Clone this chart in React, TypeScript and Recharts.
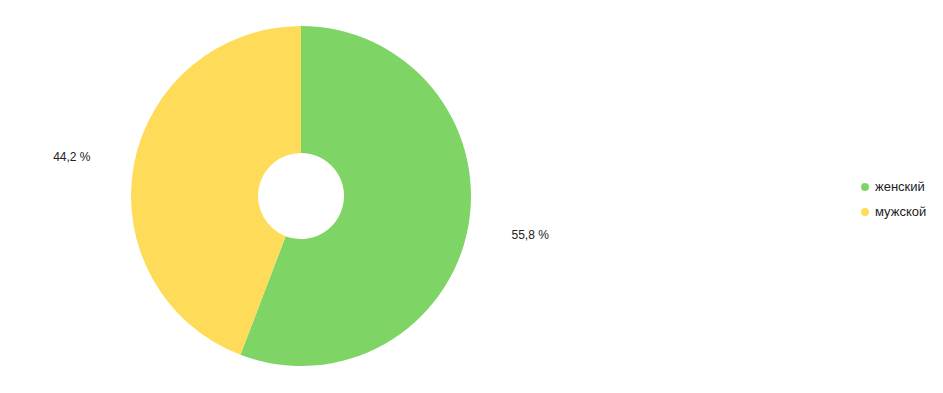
import { PieChart, Pie, Cell, Legend } from "recharts"

const names = ["женский", "мужской"]
const values = [55.8, 44.2]
const colors = ["#7ED566", "#FEDC5A"]

const data = names.map((name, i) => ({ name, value: values[i], color: colors[i] }))

const RADIAN = Math.PI / 180

function renderLabel(props: any) {
  const { cx, cy, midAngle, outerRadius, value } = props
  const r = outerRadius + 44
  const x = cx + r * Math.cos(-midAngle * RADIAN)
  const y = cy + r * Math.sin(-midAngle * RADIAN)
  return (
    <text
      x={x}
      y={y}
      fill="#222"
      fontSize={12}
      fontFamily="'Liberation Sans', Arial, sans-serif"
      textAnchor={x > cx ? "start" : "end"}
      dominantBaseline="central"
    >
      {value.toFixed(1).replace(".", ",")} %
    </text>
  )
}

function LegendContent() {
  return (
    <div style={{ fontFamily: "'Liberation Sans', Arial, sans-serif", fontSize: 13, color: "#222" }}>
      {data.map((d) => (
        <div key={d.name} style={{ display: "flex", alignItems: "center", height: 25 }}>
          <span
            style={{
              width: 8,
              height: 8,
              borderRadius: "50%",
              background: d.color,
              marginRight: 6,
              display: "inline-block",
            }}
          />
          {d.name}
        </div>
      ))}
    </div>
  )
}

export default function App() {
  return (
    <div style={{ position: "absolute", left: 0, top: 0, background: "#fff" }}>
      <PieChart width={943} height={393} margin={{ top: 0, right: 0, bottom: 0, left: 0 }}>
        <Pie
          data={data}
          dataKey="value"
          nameKey="name"
          cx={301}
          cy={196}
          innerRadius={43}
          outerRadius={170}
          startAngle={90}
          endAngle={-270}
          stroke="none"
          label={renderLabel}
          labelLine={false}
          isAnimationActive={false}
        >
          {data.map((entry) => (
            <Cell key={entry.name} fill={entry.color} />
          ))}
        </Pie>
        <Legend
          content={<LegendContent />}
          wrapperStyle={{ left: 861, top: 174, width: 80 }}
        />
      </PieChart>
    </div>
  )
}
